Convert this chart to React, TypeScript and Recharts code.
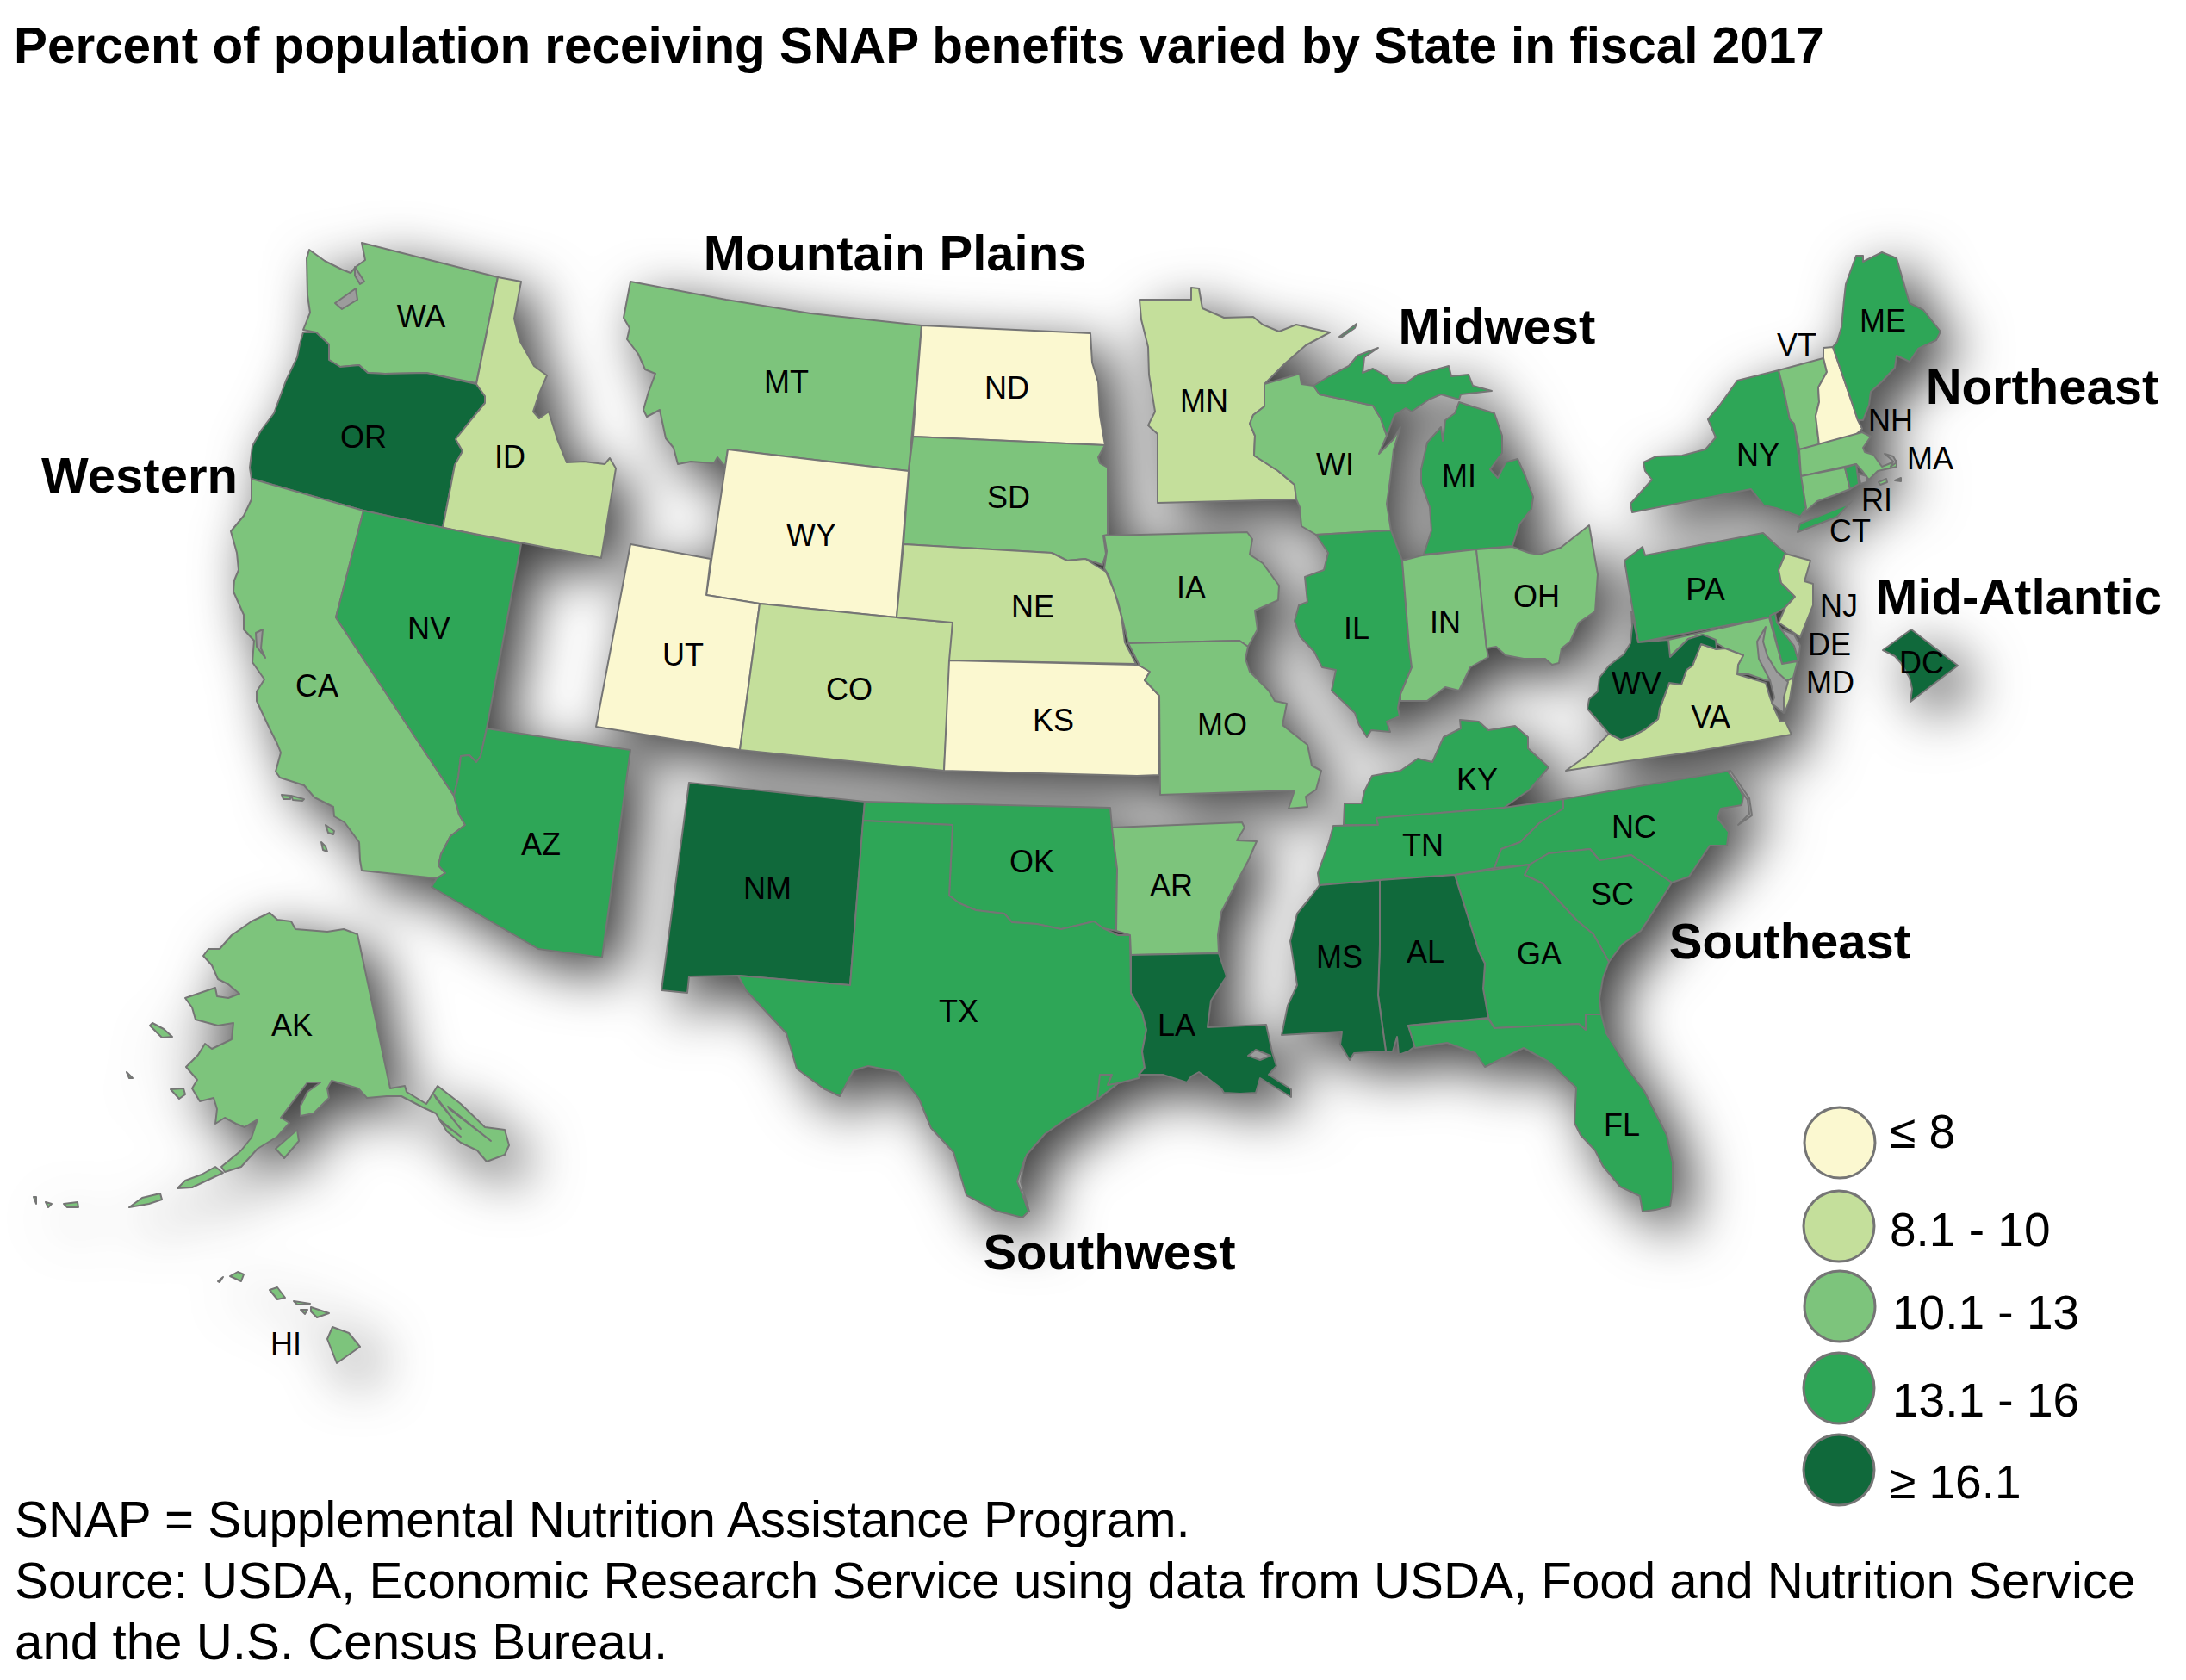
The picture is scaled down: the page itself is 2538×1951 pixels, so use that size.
import React from 'react';
import { ScatterChart, Scatter, XAxis, YAxis, Polygon } from 'recharts';

type Pt = [number, number];

const W = 2538;
const H = 1951;
const FONT = '"Liberation Sans", Arial, sans-serif';

// Rate classes, low to high
const tierColors = ['#fbf8d0', '#c4df9b', '#7dc47c', '#2ea657', '#10693b'];
const tierLabels = ['≤ 8', '8.1 - 10', '10.1 - 13', '13.1 - 16', '≥ 16.1'];
const WATER = '#9c9c9c';
const EDGE = '#757575';

// State outlines (map units)
const WA: Pt[] = [[359,290],[377,303],[397,313],[407,317],[413,310],[424,302],[420,282],[578,322],[553,445],[495,433],[447,434],[427,433],[417,424],[395,426],[382,418],[382,400],[367,386],[352,383],[360,363],[357,343],[356,300]];
const OR: Pt[] = [[352,386],[367,386],[382,400],[382,418],[395,426],[417,424],[427,433],[447,434],[495,433],[553,446],[563,460],[563,468],[545,490],[529,510],[537,524],[528,540],[514,613],[422,593],[292,556],[290,543],[293,518],[303,500],[318,480],[332,442],[345,415],[348,400]];
const ID: Pt[] = [[578,322],[605,327],[597,370],[603,395],[620,425],[635,436],[626,457],[619,478],[626,486],[637,478],[647,510],[658,537],[678,536],[702,539],[708,532],[715,544],[698,648],[514,613],[528,540],[537,524],[529,510],[545,490],[563,468],[563,460],[553,446]];
const CA: Pt[] = [[292,556],[292,580],[283,599],[268,617],[275,642],[277,662],[272,674],[271,687],[283,714],[283,731],[295,744],[293,769],[307,789],[298,803],[298,814],[312,844],[322,864],[326,874],[320,896],[325,903],[353,912],[365,926],[387,937],[388,948],[400,955],[417,978],[418,999],[420,1011],[507,1020],[517,1014],[509,1005],[512,992],[523,971],[540,958],[533,946],[527,924],[390,717],[422,593]];
const NV: Pt[] = [[422,593],[605,632],[565,846],[558,878],[553,885],[545,877],[535,878],[532,903],[527,924],[390,717]];
const AZ: Pt[] = [[565,846],[732,871],[699,1112],[625,1102],[501,1030],[507,1020],[517,1014],[509,1005],[512,992],[523,971],[540,958],[533,946],[527,924],[532,903],[535,878],[545,877],[553,885],[558,878]];
const MT: Pt[] = [[732,327],[843,348],[941,364],[1070,378],[1055,547],[845,522],[842,542],[833,531],[829,538],[802,536],[787,539],[782,520],[773,509],[766,476],[751,484],[747,476],[753,455],[761,434],[749,429],[741,411],[728,394],[731,381],[724,369]];
const ND: Pt[] = [[1070,378],[1266,387],[1268,421],[1275,444],[1277,482],[1283,517],[1060,507]];
const SD: Pt[] = [[1060,507],[1283,517],[1275,531],[1277,538],[1286,543],[1286,621],[1281,622],[1284,643],[1280,656],[1260,649],[1239,651],[1221,642],[1049,632],[1055,547]];
const WY: Pt[] = [[845,522],[1055,547],[1041,717],[882,701],[820,691]];
const UT: Pt[] = [[732,632],[825,649],[820,691],[882,701],[859,871],[692,844]];
const CO: Pt[] = [[882,701],[1041,717],[1106,723],[1096,895],[859,871]];
const NE: Pt[] = [[1049,632],[1221,642],[1239,651],[1260,649],[1284,664],[1294,687],[1302,716],[1306,746],[1319,771],[1102,767],[1106,723],[1041,717]];
const KS: Pt[] = [[1102,767],[1319,772],[1325,774],[1335,780],[1329,790],[1346,808],[1346,900],[1320,901],[1096,895]];
const MN: Pt[] = [[1323,348],[1383,348],[1383,334],[1392,335],[1396,358],[1421,369],[1455,368],[1466,377],[1485,385],[1505,377],[1526,382],[1544,386],[1516,401],[1491,423],[1473,441],[1468,446],[1468,472],[1455,482],[1451,492],[1457,506],[1456,529],[1484,547],[1503,563],[1505,580],[1344,584],[1344,504],[1333,494],[1341,478],[1334,435],[1333,403],[1325,371]];
const WI: Pt[] = [[1468,446],[1509,434],[1511,446],[1525,448],[1532,458],[1594,471],[1603,486],[1610,506],[1601,527],[1618,510],[1626,496],[1618,522],[1614,557],[1610,585],[1615,616],[1528,621],[1511,611],[1509,589],[1505,580],[1503,563],[1484,547],[1456,529],[1457,506],[1451,492],[1455,482],[1468,472]];
const MI_UPPER: Pt[] = [[1525,448],[1543,437],[1566,425],[1576,413],[1600,404],[1584,415],[1582,433],[1594,428],[1610,437],[1616,445],[1632,445],[1646,435],[1682,425],[1685,437],[1705,435],[1710,448],[1732,454],[1696,458],[1694,464],[1673,458],[1659,464],[1639,478],[1632,474],[1619,482],[1610,506],[1603,486],[1594,471],[1532,458]];
const MI_LOWER: Pt[] = [[1694,467],[1709,472],[1735,480],[1744,506],[1744,526],[1730,545],[1739,555],[1748,537],[1762,533],[1771,553],[1780,577],[1778,591],[1764,609],[1756,634],[1653,644],[1662,616],[1660,589],[1650,561],[1650,545],[1657,514],[1673,496],[1675,512],[1678,488],[1689,480]];
const MI_ROYALE: Pt[] = [[1555,391],[1575,376],[1573,381],[1557,392]];
const IL: Pt[] = [[1528,621],[1615,616],[1628,651],[1636,751],[1639,775],[1626,806],[1623,822],[1625,832],[1610,838],[1614,850],[1592,848],[1587,856],[1578,842],[1573,828],[1546,802],[1551,778],[1535,775],[1526,757],[1509,739],[1503,721],[1508,703],[1518,699],[1515,670],[1537,662],[1542,642]];
const IN: Pt[] = [[1628,651],[1651,645],[1714,638],[1726,753],[1728,763],[1707,775],[1694,802],[1678,798],[1657,814],[1626,814],[1626,806],[1639,775],[1636,751]];
const OH: Pt[] = [[1714,638],[1756,635],[1775,642],[1787,644],[1812,636],[1845,610],[1855,667],[1852,710],[1833,723],[1823,745],[1813,753],[1810,770],[1802,772],[1794,765],[1769,765],[1748,761],[1737,751],[1726,753]];
const IA: Pt[] = [[1282,622],[1448,618],[1454,626],[1451,644],[1466,654],[1485,680],[1484,697],[1457,709],[1460,731],[1449,751],[1439,744],[1310,747],[1298,699],[1287,668],[1282,660],[1285,640]];
const MO: Pt[] = [[1310,747],[1439,744],[1449,751],[1446,765],[1451,780],[1473,802],[1480,814],[1494,817],[1489,842],[1518,865],[1523,889],[1534,895],[1528,917],[1516,925],[1518,937],[1496,939],[1503,918],[1347,923],[1346,808],[1329,790],[1335,780],[1323,773]];
const NM: Pt[] = [[800,909],[1004,931],[987,1144],[857,1133],[800,1134],[798,1153],[768,1150]];
const OK: Pt[] = [[1004,931],[1289,938],[1291,961],[1297,1009],[1296,1081],[1281,1078],[1270,1070],[1232,1079],[1204,1073],[1175,1071],[1166,1061],[1133,1057],[1114,1049],[1102,1040],[1106,958],[1002,953]];
const TX: Pt[] = [[1002,953],[1106,958],[1102,1040],[1114,1049],[1133,1057],[1166,1061],[1175,1071],[1204,1073],[1232,1079],[1270,1070],[1281,1078],[1298,1086],[1312,1086],[1313,1153],[1326,1176],[1331,1196],[1326,1221],[1329,1240],[1322,1252],[1298,1258],[1274,1277],[1237,1300],[1213,1317],[1192,1341],[1182,1372],[1194,1407],[1187,1414],[1156,1406],[1122,1388],[1107,1338],[1081,1310],[1067,1276],[1043,1245],[1008,1238],[991,1243],[975,1273],[956,1264],[925,1241],[913,1200],[866,1150],[857,1133],[987,1144]];
const TX_GALVESTON: Pt[] = [[1277,1248],[1291,1248],[1286,1260],[1298,1258],[1274,1277]];
const AR: Pt[] = [[1291,961],[1442,955],[1445,961],[1436,976],[1459,977],[1449,1000],[1435,1026],[1418,1059],[1414,1086],[1415,1107],[1313,1109],[1312,1086],[1296,1081],[1297,1009]];
const LA: Pt[] = [[1313,1109],[1415,1107],[1424,1134],[1406,1162],[1402,1193],[1470,1190],[1477,1222],[1482,1238],[1473,1248],[1499,1265],[1499,1274],[1463,1252],[1458,1269],[1440,1270],[1421,1269],[1418,1264],[1402,1252],[1392,1245],[1383,1250],[1378,1257],[1350,1248],[1322,1248],[1329,1240],[1326,1221],[1331,1196],[1326,1176],[1313,1153]];
const KY: Pt[] = [[1695,836],[1717,838],[1728,848],[1759,843],[1774,856],[1774,869],[1798,891],[1776,917],[1746,938],[1598,950],[1600,958],[1560,958],[1561,933],[1581,933],[1584,919],[1593,901],[1626,895],[1646,881],[1663,885],[1676,856],[1696,846]];
const TN: Pt[] = [[1548,959],[1600,958],[1598,950],[1746,938],[1815,928],[1815,939],[1787,956],[1765,978],[1743,986],[1735,1008],[1689,1016],[1602,1022],[1532,1028],[1530,1014],[1543,978]];
const NC: Pt[] = [[1815,928],[2009,895],[2024,925],[2022,935],[1998,939],[1994,950],[2007,966],[2005,982],[1985,982],[1961,1018],[1941,1025],[1894,993],[1857,999],[1846,986],[1798,991],[1776,1004],[1735,1008],[1743,986],[1765,978],[1787,956],[1815,939]];
const NC_BANKS: Pt[] = [[2009,895],[2031,927],[2034,947],[2018,958],[2031,945],[2029,929],[2007,897]];
const SC: Pt[] = [[1776,1004],[1798,991],[1846,986],[1857,999],[1894,993],[1941,1025],[1922,1055],[1905,1081],[1883,1097],[1868,1117],[1850,1085],[1831,1069],[1791,1026],[1770,1016]];
const GA: Pt[] = [[1689,1016],[1776,1004],[1770,1016],[1791,1026],[1831,1069],[1850,1085],[1868,1117],[1861,1136],[1857,1160],[1859,1178],[1841,1178],[1841,1196],[1833,1189],[1735,1194],[1728,1182],[1722,1148],[1724,1119],[1717,1105]];
const AL: Pt[] = [[1602,1022],[1689,1016],[1717,1105],[1724,1119],[1722,1148],[1728,1182],[1635,1191],[1643,1215],[1635,1221],[1624,1225],[1622,1204],[1617,1221],[1609,1221],[1600,1156],[1602,1097]];
const MS: Pt[] = [[1532,1028],[1602,1022],[1602,1097],[1600,1156],[1609,1221],[1572,1223],[1567,1231],[1556,1213],[1558,1198],[1488,1202],[1495,1168],[1506,1144],[1498,1093],[1506,1061],[1519,1045]];
const FL: Pt[] = [[1635,1191],[1728,1183],[1735,1194],[1833,1189],[1841,1196],[1841,1178],[1859,1178],[1865,1200],[1891,1243],[1909,1267],[1935,1318],[1942,1350],[1942,1381],[1939,1401],[1922,1405],[1907,1407],[1904,1389],[1881,1378],[1861,1354],[1852,1336],[1835,1318],[1828,1304],[1830,1263],[1798,1233],[1769,1217],[1724,1239],[1713,1223],[1680,1211],[1643,1217]];
const PA: Pt[] = [[1886,651],[1907,635],[1910,645],[2047,619],[2061,632],[2073,642],[2065,662],[2068,677],[2084,693],[2073,705],[2054,717],[1902,746]];
const NJ: Pt[] = [[2073,643],[2102,651],[2095,675],[2105,678],[2105,703],[2090,740],[2083,735],[2065,723],[2073,705],[2084,693],[2068,677],[2065,662]];
const DE: Pt[] = [[2055,715],[2061,712],[2063,723],[2083,750],[2088,767],[2069,771]];
const MD: Pt[] = [[1937,743],[2054,717],[2069,771],[2087,768],[2082,787],[2072,792],[2050,790],[2030,783],[2017,783],[2018,772],[2024,761],[2003,753],[1993,747],[1977,737],[1960,742],[1938,763]];
const VA: Pt[] = [[1818,895],[1843,877],[1868,852],[1882,859],[1895,855],[1910,847],[1925,835],[1927,823],[1938,793],[1952,795],[1958,778],[1965,773],[1975,748],[1993,754],[2003,753],[2024,761],[2018,772],[2017,783],[2030,787],[2050,793],[2055,810],[2060,823],[2067,838],[2073,838],[2080,853],[1967,873],[1883,885]];
const VA_SHORE: Pt[] = [[2082,787],[2072,792],[2068,815],[2072,828],[2078,812]];
const WV: Pt[] = [[1894,710],[1902,746],[1937,743],[1939,763],[1960,742],[1977,737],[1992,743],[1993,754],[1975,748],[1965,773],[1958,778],[1952,795],[1938,793],[1927,823],[1925,835],[1910,847],[1895,855],[1882,859],[1868,852],[1862,845],[1843,823],[1845,812],[1855,803],[1857,787],[1868,773],[1885,760],[1893,747],[1895,727]];
const DC: Pt[] = [[2219,731],[2273,773],[2218,815],[2220,800],[2217,787],[2207,770],[2200,762],[2186,755]];
const NY: Pt[] = [[1908,537],[1923,530],[1953,529],[1980,522],[1992,508],[1983,487],[1997,470],[2017,442],[2065,430],[2072,458],[2078,487],[2083,492],[2090,543],[2097,590],[2090,600],[2062,590],[2048,587],[2033,568],[1895,595],[1893,585],[1918,557],[1910,547]];
const NY_LONG_ISLAND: Pt[] = [[2087,618],[2090,608],[2147,585],[2150,582],[2133,600],[2113,608]];
const VT: Pt[] = [[2065,430],[2117,416],[2121,432],[2111,450],[2112,467],[2108,483],[2112,517],[2089,522],[2083,492],[2078,487],[2072,458]];
const NH: Pt[] = [[2117,404],[2128,403],[2150,467],[2157,488],[2162,498],[2150,509],[2112,517],[2108,483],[2112,467],[2111,450],[2121,432],[2117,416]];
const ME: Pt[] = [[2128,403],[2133,397],[2138,380],[2141,348],[2143,330],[2155,297],[2163,297],[2163,304],[2185,293],[2202,300],[2217,352],[2233,360],[2253,385],[2248,395],[2227,405],[2217,420],[2202,413],[2200,427],[2185,443],[2172,455],[2170,470],[2163,488],[2157,488],[2150,467]];
const MA: Pt[] = [[2089,522],[2162,502],[2172,507],[2163,520],[2165,525],[2175,528],[2185,542],[2202,535],[2202,542],[2180,547],[2170,557],[2163,548],[2155,539],[2091,553]];
const MA_CAPE: Pt[] = [[2188,527],[2198,530],[2202,537],[2195,542],[2198,536],[2194,532]];
const MA_VINEYARD: Pt[] = [[2181,560],[2190,556],[2191,560],[2183,563]];
const MA_NANTUCKET: Pt[] = [[2200,558],[2207,555],[2207,559]];
const CT: Pt[] = [[2091,553],[2142,543],[2148,568],[2130,575],[2110,582],[2093,597],[2097,590]];
const RI: Pt[] = [[2142,543],[2155,539],[2158,562],[2148,568]];
const AK: Pt[] = [[313,1060],[322,1068],[338,1070],[343,1079],[380,1082],[399,1079],[415,1085],[453,1264],[470,1261],[472,1268],[495,1282],[508,1261],[535,1282],[563,1309],[586,1312],[591,1330],[586,1341],[565,1349],[554,1336],[535,1327],[519,1314],[506,1293],[491,1286],[466,1273],[449,1273],[426,1275],[416,1264],[399,1259],[385,1255],[380,1264],[382,1275],[364,1293],[349,1296],[349,1284],[357,1268],[372,1257],[357,1257],[338,1282],[326,1298],[336,1304],[322,1320],[299,1334],[280,1355],[261,1361],[257,1355],[280,1336],[292,1321],[299,1300],[284,1309],[274,1305],[261,1298],[250,1305],[252,1288],[248,1275],[232,1279],[223,1264],[229,1254],[216,1239],[230,1225],[238,1212],[246,1218],[269,1207],[271,1188],[253,1191],[227,1184],[223,1170],[215,1159],[250,1147],[252,1157],[265,1159],[278,1154],[265,1143],[253,1137],[246,1121],[236,1110],[242,1102],[255,1102],[269,1086],[292,1070]];
const AK_PENINSULA: Pt[] = [[206,1380],[215,1371],[234,1364],[250,1355],[259,1362],[240,1371],[223,1379]];
const AK_ALEUT1: Pt[] = [[150,1402],[165,1391],[186,1386],[188,1393],[173,1398]];
const AK_ALEUT2: Pt[] = [[74,1398],[90,1396],[91,1402],[78,1402]];
const AK_ALEUT3: Pt[] = [[53,1396],[60,1398],[56,1402]];
const AK_ALEUT4: Pt[] = [[39,1390],[42,1390],[42,1398]];
const AK_KODIAK: Pt[] = [[320,1334],[345,1312],[347,1325],[330,1345]];
const AK_LAWRENCE: Pt[] = [[174,1191],[177,1188],[190,1195],[200,1204],[188,1205]];
const AK_NUNIVAK: Pt[] = [[198,1265],[213,1264],[215,1271],[208,1276]];
const AK_MATTHEW: Pt[] = [[147,1245],[154,1252],[150,1252]];
const HI_BIG: Pt[] = [[386,1541],[405,1548],[418,1564],[391,1583],[380,1555]];
const HI_MAUI: Pt[] = [[361,1518],[382,1525],[368,1530],[361,1523]];
const HI_MOLOKAI: Pt[] = [[341,1511],[360,1514],[345,1515]];
const HI_LANAI: Pt[] = [[349,1521],[357,1521],[354,1526]];
const HI_OAHU: Pt[] = [[313,1498],[322,1495],[331,1507],[322,1509]];
const HI_KAUAI: Pt[] = [[267,1482],[276,1477],[283,1480],[280,1488]];
const HI_NIIHAU: Pt[] = [[253,1488],[259,1483],[255,1489]];
const CA_ISLE1: Pt[] = [[327,923],[337,924],[337,928],[329,928]];
const CA_ISLE2: Pt[] = [[338,924],[353,928],[351,930],[340,929]];
const CA_ISLE3: Pt[] = [[378,958],[388,965],[387,969],[381,967]];
const CA_ISLE4: Pt[] = [[373,978],[378,983],[380,989],[375,987]];

// Water cut-outs
const PUGET_SOUTH: Pt[] = [[389,352],[413,335],[415,348],[397,359]];
const PUGET_ISLES: Pt[] = [[412,310],[423,327],[418,330],[412,320]];
const SF_BAY: Pt[] = [[297,735],[305,731],[303,753],[308,764],[298,751]];
const PONTCHARTRAIN: Pt[] = [[1449,1226],[1458,1219],[1475,1226],[1463,1231]];
const CHESAPEAKE: Pt[] = [[2050,728],[2040,745],[2042,765],[2055,790],[2060,810],[2057,817],[2071,828],[2071,810],[2076,792],[2063,780],[2052,762],[2047,745]];
const DEL_BAY: Pt[] = [[2067,730],[2083,737],[2090,750],[2088,767],[2083,750]];
const NARRAGANSETT: Pt[] = [[2158,550],[2167,553],[2167,560],[2160,562]];
const PADRE: Pt[] = [[1190,1345],[1181,1372],[1195,1407],[1185,1372]];
const AK_SE_1: Pt[] = [[504,1271],[535,1311],[506,1275]];
const AK_SE_2: Pt[] = [[520,1285],[570,1325],[522,1288]];
const AK_SE_3: Pt[] = [[510,1300],[535,1320],[512,1303]];

// outline, rate class
const stateShapes: [Pt[], number][] = [
  [WA, 2], [OR, 4], [ID, 1], [CA, 2], [NV, 3], [AZ, 3], [MT, 2], [ND, 0], [SD, 2], [WY, 0], [UT, 0], [CO, 1], [NE, 1], [KS, 0],
  [MN, 1], [WI, 2], [MI_UPPER, 3], [MI_LOWER, 3], [MI_ROYALE, 3], [IL, 3], [IN, 2], [OH, 2], [IA, 2], [MO, 2],
  [NM, 4], [OK, 3], [TX, 3], [TX_GALVESTON, 3], [AR, 2], [LA, 4], [KY, 3], [TN, 3], [NC, 3], [SC, 3], [GA, 3], [AL, 4], [MS, 4], [FL, 3],
  [PA, 3], [NJ, 1], [DE, 3], [MD, 2], [VA, 1], [VA_SHORE, 1], [WV, 4], [DC, 4], [NY, 3], [NY_LONG_ISLAND, 3], [VT, 2], [NH, 0], [ME, 3],
  [MA, 2], [MA_VINEYARD, 2], [MA_NANTUCKET, 2], [CT, 2], [RI, 3],
  [AK, 2], [AK_PENINSULA, 2], [AK_ALEUT1, 2], [AK_ALEUT2, 2], [AK_ALEUT3, 2], [AK_ALEUT4, 2], [AK_KODIAK, 2], [AK_LAWRENCE, 2], [AK_NUNIVAK, 2], [AK_MATTHEW, 2],
  [HI_BIG, 2], [HI_MAUI, 2], [HI_MOLOKAI, 2], [HI_LANAI, 2], [HI_OAHU, 2], [HI_KAUAI, 2], [HI_NIIHAU, 2],
  [CA_ISLE1, 2], [CA_ISLE2, 2], [CA_ISLE3, 2], [CA_ISLE4, 2],
];
const waterShapes: Pt[][] = [PUGET_SOUTH, PUGET_ISLES, SF_BAY, PONTCHARTRAIN, CHESAPEAKE, DEL_BAY, NARRAGANSETT, NC_BANKS, MA_CAPE, PADRE, AK_SE_1, AK_SE_2, AK_SE_3];

const stateLabels: [string, number, number][] = [
  ['WA',489,367],['OR',422,507],['ID',592,530],['CA',368,796],['NV',498,729],['AZ',628,980],['MT',913,443],['ND',1169,450],['SD',1171,577],
  ['WY',942,621],['UT',793,760],['CO',986,800],['NE',1199,704],['KS',1223,836],['MN',1398,465],['WI',1550,539],['MI',1694,552],['IA',1383,682],
  ['IL',1575,729],['IN',1678,722],['OH',1784,692],['MO',1419,841],['KY',1715,905],['NM',891,1031],['OK',1198,1000],['AR',1360,1028],['TX',1113,1174],
  ['LA',1366,1190],['TN',1652,981],['NC',1897,960],['SC',1872,1038],['GA',1787,1107],['MS',1555,1111],['AL',1655,1105],['FL',1883,1306],['PA',1980,684],
  ['VA',1986,832],['WV',1900,793],['NJ',2135,703],['DE',2124,748],['MD',2125,792],['DC',2231,769],['NY',2041,528],['ME',2186,372],['VT',2086,400],
  ['NH',2195,488],['MA',2241,532],['RI',2179,580],['CT',2148,616],['AK',339,1190],['HI',332,1560],
];
const regionLabels: [string, number, number][] = [
  ['Mountain Plains',1039,293],['Midwest',1738,378],['Northeast',2371,448],['Western',162,551],['Mid-Atlantic',2344,692],['Southeast',2078,1092],['Southwest',1288,1453],
];
const legendDots: Pt[] = [[2136,1327],[2135,1424],[2136,1517],[2135,1612],[2135,1707]];
const legendText: Pt[] = [[2194,1313],[2194,1427],[2197,1523],[2197,1625],[2194,1720]];

const title = 'Percent of population receiving SNAP benefits varied by State in fiscal 2017';
const notes = [
  'SNAP = Supplemental Nutrition Assistance Program.',
  'Source: USDA, Economic Research Service using data from USDA, Food and Nutrition Service',
  'and the U.S. Census Bureau.',
];

const toRows = (pts: Pt[]) => pts.map(([x, y]) => ({ x, y }));
const noDot = () => null;

const Axes = () => (
  <>
    <XAxis type="number" dataKey="x" domain={[0, W]} hide />
    <YAxis type="number" dataKey="y" domain={[0, H]} reversed hide />
  </>
);

const area = (fill: string) => (p: any) => (
  <Polygon points={p.points} fill={fill} stroke={EDGE} strokeWidth={2} strokeLinejoin="round" />
);

const textDot = (size: number, weight: string, anchor: string) => (p: any) => (
  <text x={p.cx} y={p.cy} dy=".36em" textAnchor={anchor} fontFamily={FONT} fontSize={size} fontWeight={weight} fill="#000">
    {p.payload.label}
  </text>
);

const labelRows = (rows: [string, number, number][]) => rows.map(([label, x, y]) => ({ label, x, y }));

export default function App() {
  return (
    <div style={{ position: 'absolute', left: 0, top: 0, width: W, height: H, background: '#fff', overflow: 'hidden' }}>
      {/* the shadow sits on the whole map layer, so states do not shade each other */}
      <div style={{ position: 'absolute', left: 0, top: 0, filter: 'drop-shadow(20px 20px 32px rgba(0,0,0,0.78))' }}>
        <ScatterChart width={W} height={H} margin={{ top: 0, right: 0, bottom: 0, left: 0 }}>
          {Axes()}
          {stateShapes.map(([pts, tier], i) => (
            <Scatter key={i} data={toRows(pts)} line={area(tierColors[tier])} shape={noDot} isAnimationActive={false} />
          ))}
          {waterShapes.map((pts, i) => (
            <Scatter key={'w' + i} data={toRows(pts)} line={area(WATER)} shape={noDot} isAnimationActive={false} />
          ))}
        </ScatterChart>
      </div>
      <div style={{ position: 'absolute', left: 0, top: 0 }}>
        <ScatterChart width={W} height={H} margin={{ top: 0, right: 0, bottom: 0, left: 0 }}>
          {Axes()}
          <Scatter data={labelRows(stateLabels)} shape={textDot(36, 'normal', 'middle')} isAnimationActive={false} />
          <Scatter data={labelRows(regionLabels)} shape={textDot(58, 'bold', 'middle')} isAnimationActive={false} />
          <Scatter
            data={toRows(legendDots).map((r, i) => ({ ...r, tier: i }))}
            shape={(p: any) => <circle cx={p.cx} cy={p.cy} r={41} fill={tierColors[p.payload.tier]} stroke={EDGE} strokeWidth={3} />}
            isAnimationActive={false}
          />
          <Scatter
            data={legendText.map(([x, y], i) => ({ x, y, label: tierLabels[i] }))}
            shape={textDot(55, 'normal', 'start')}
            isAnimationActive={false}
          />
        </ScatterChart>
      </div>
      <div style={{ position: 'absolute', left: 16, top: 21, fontFamily: FONT, fontWeight: 'bold', fontSize: 58.4, lineHeight: '64px', whiteSpace: 'nowrap' }}>
        {title}
      </div>
      <div style={{ position: 'absolute', left: 17, top: 1729, fontFamily: FONT, fontSize: 58.3, lineHeight: '71px', whiteSpace: 'nowrap' }}>
        {notes.map((n) => <div key={n}>{n}</div>)}
      </div>
    </div>
  );
}
